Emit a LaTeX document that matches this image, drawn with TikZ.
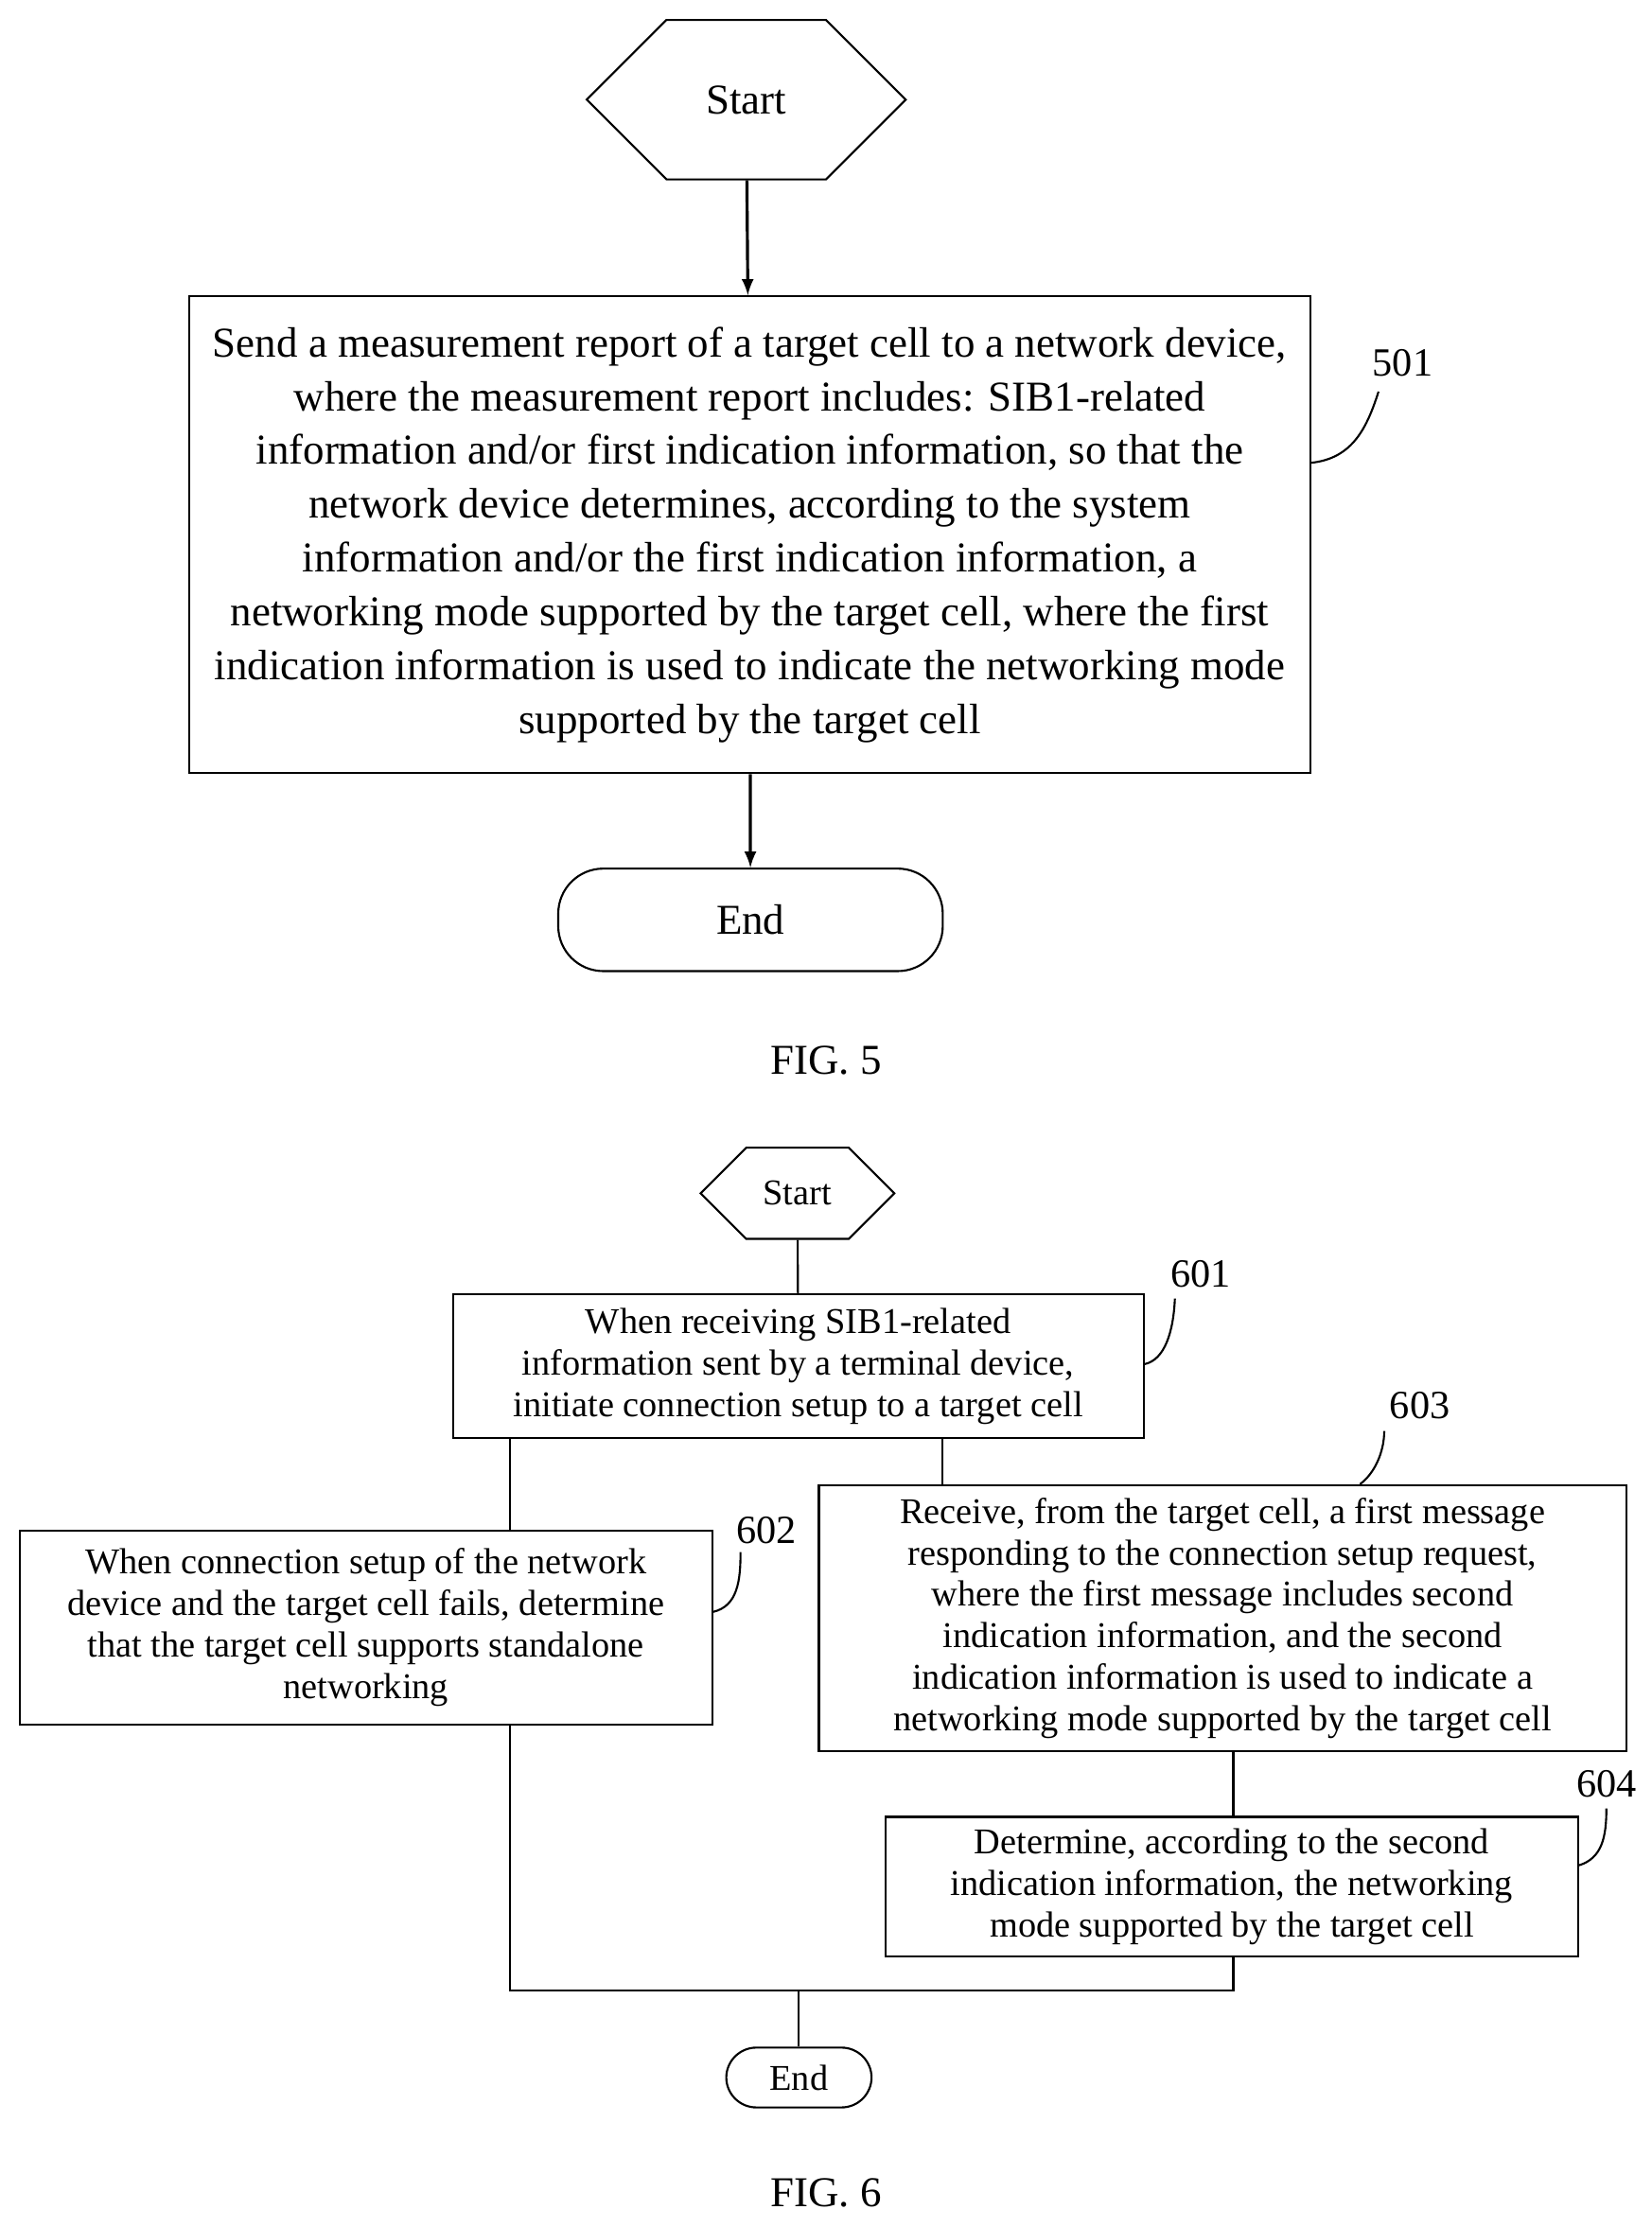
\documentclass[tikz,border=0pt]{standalone}
\usepackage{fontspec}
\setmainfont{Liberation Serif}
\usetikzlibrary{shapes.symbols}
\begin{document}
\begin{tikzpicture}[x=0.02cm,y=-0.02cm,>=latex,
    bigtxt/.style={font=\fontsize{17}{21.5}\selectfont},
    smalltxt/.style={font=\fontsize{14.5}{16.6}\selectfont},
    hexa/.style={draw,thick,signal,signal to=east and west,signal pointer angle=90,inner sep=0pt},
    procbox/.style={draw,thick,align=center,inner sep=0pt},
    term/.style={draw,thick,rounded corners=18pt,inner sep=0pt},
    lbl/.style={font=\fontsize{16}{18}\selectfont}]
    \useasboundingbox (0,0) rectangle (1160,1564);

    % FIG. 5
    \node[hexa,bigtxt,minimum width=224*0.02cm,minimum height=112*0.02cm] (startA) at (524,70) {Start};
    \node[procbox,bigtxt,minimum width=787*0.02cm,minimum height=335*0.02cm] (stepA) at (526.5,375.5)
        {Send a measurement report of a target cell to a network device,\\
         where the measurement report includes: SIB1-related\\
         information and/or first indication information, so that the\\
         network device determines, according to the system\\
         information and/or the first indication information, a\\
         networking mode supported by the target cell, where the first\\
         indication information is used to indicate the networking mode\\
         supported by the target cell};
    \node[term,bigtxt,minimum width=270*0.02cm,minimum height=72*0.02cm] (endA) at (527,646) {End};
    \node[lbl] (numA) at (985,255) {501};
    \node[bigtxt] (figA) at (580,745) {FIG. 5};

    \draw[->,very thick] (startA) -- (stepA);
    \draw[->,very thick] (stepA) -- (endA);
    \draw[thick] (stepA.east |- 0,325) .. controls (950,322) and (960,300) .. (968,275);

    % FIG. 6
    \node[hexa,smalltxt,minimum width=136*0.02cm,minimum height=64*0.02cm] (startB) at (560,838) {Start};
    \node[procbox,smalltxt,minimum width=485*0.02cm,minimum height=101*0.02cm] (s601) at (560.5,959.5)
        {When receiving SIB1-related\\ information sent by a terminal device,\\ initiate connection setup to a target cell};
    \node[procbox,smalltxt,minimum width=486*0.02cm,minimum height=136*0.02cm] (s602) at (257,1143)
        {When connection setup of the network\\ device and the target cell fails, determine\\ that the target cell supports standalone\\ networking};
    \node[procbox,smalltxt,minimum width=567*0.02cm,minimum height=187*0.02cm] (s603) at (858.5,1136.5)
        {Receive, from the target cell, a first message\\ responding to the connection setup request,\\ where the first message includes second\\ indication information, and the second\\ indication information is used to indicate a\\ networking mode supported by the target cell};
    \node[procbox,smalltxt,minimum width=486*0.02cm,minimum height=98*0.02cm] (s604) at (865,1325)
        {Determine, according to the second\\ indication information, the networking\\ mode supported by the target cell};
    \node[term,smalltxt,rounded corners=12pt,minimum width=102*0.02cm,minimum height=42*0.02cm] (endB) at (561,1459) {End};
    \coordinate (joinL) at (358,1398);
    \coordinate (joinR) at (866,1398);
    \coordinate (joinM) at (561,1398);
    \node[lbl] (n601) at (843,895) {601};
    \node[lbl] (n602) at (538,1075) {602};
    \node[lbl] (n603) at (997,987) {603};
    \node[lbl] (n604) at (1128,1253) {604};
    \node[bigtxt] (figB) at (580,1540) {FIG. 6};

    \draw[thick] (startB) -- (s601);
    \draw[thick] (s601.south -| joinL) -- (s602.north -| joinL);
    \draw[thick] (s601.south -| 662,0) -- (s603.north -| 662,0);
    \draw[thick] (s603.south -| joinR) -- (s604.north -| joinR);
    \draw[thick] (s602.south -| joinL) -- (joinL) -- (joinR) -- (s604.south -| joinR);
    \draw[thick] (joinM) -- (endB);
    \draw[thick] (s601.east |- 0,958) .. controls (818,955) and (824,935) .. (825,912);
    \draw[thick] (s602.east |- 0,1132) .. controls (518,1128) and (520,1110) .. (520,1090);
    \draw[thick] (s603.north -| 955,0) .. controls (965,1035) and (972,1020) .. (972,1005);
    \draw[thick] (s604.east |- 0,1310) .. controls (1125,1305) and (1128,1290) .. (1128,1270);
\end{tikzpicture}
\end{document}
